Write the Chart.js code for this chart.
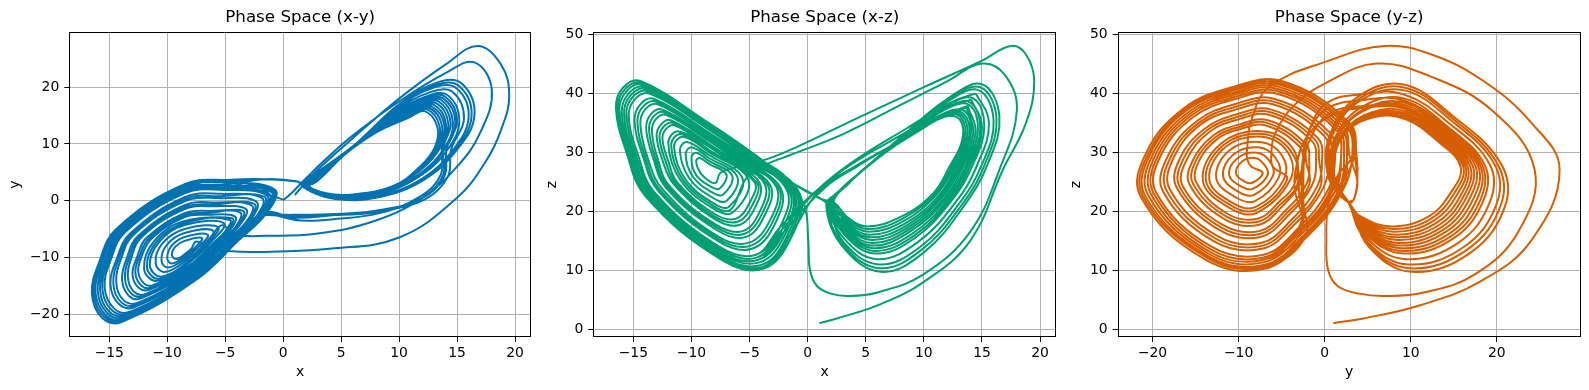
<!DOCTYPE html>
<html>
<head>
<meta charset="utf-8">
<script src="https://cdn.jsdelivr.net/npm/chart.js@4.4.0/dist/chart.umd.min.js"></script>
<style>
  body { margin: 0; background: #fff; width: 1589px; height: 390px; position: relative; overflow: hidden; }
  canvas { position: absolute; top: 0; }
</style>
</head>
<body>
<canvas id="xy" width="540" height="390" style="left:0px"></canvas>
<canvas id="xz" width="525" height="390" style="left:540px"></canvas>
<canvas id="yz" width="524" height="390" style="left:1065px"></canvas>
<script>

// first big loop from the start point, drops into the centre of the left wing
const startLoop = [
  [1,1,1],[2.5,4.5,1.8],[6,11,4],[10,18,8],[14,24,15],[16.8,27.3,27],[18.8,24,35],[19.5,18.5,42],
  [18.8,12.5,46.5],[17.5,7,48],[15,0.5,45.5],[10,-6.5,41],[4,-8.5,35.5],[-1,-9,30.8],[-3.5,-9,28.8],[-6,-8.5,27.5]
];

// left wing rings, small ones near the centre
const ringL13 = [[-7.5,-7.2,26.5],[-7.9,-8.4,24.8],[-8.4,-9.3,25.0],[-9.2,-10.3,26.4],[-9.6,-9.6,28.4],[-9.3,-8.1,29.0],[-8.5,-7.1,28.0]];
const ringL19 = [[-7.0,-6.6,26.2],[-7.6,-8.3,23.8],[-8.3,-9.6,24.1],[-9.6,-11.1,26.1],[-10.0,-10.1,29.0],[-9.6,-7.9,29.9],[-8.5,-6.4,28.5]];
const ringL25 = [[-6.5,-6.0,26],[-7.3,-8.2,22.75],[-8.25,-9.95,23.2],[-9.9,-11.8,25.9],[-10.5,-10.6,29.6],[-10.0,-7.7,30.8],[-8.5,-5.7,29]];
const ringL31 = [[-6.05,-5.3,25.8],[-7.0,-8.1,21.7],[-8.2,-10.3,22.3],[-10.2,-12.6,25.6],[-11.0,-11.05,30.3],[-10.4,-7.5,31.7],[-8.5,-5.0,29.5]];
const ringL37 = [[-5.6,-4.7,25.5],[-6.8,-8.0,20.7],[-8.1,-10.6,21.3],[-10.5,-13.4,25.3],[-11.5,-11.5,30.9],[-10.7,-7.3,32.6],[-8.5,-4.3,30.0]];
const ringL40 = [[-5.35,-4.35,25.4],[-6.65,-7.95,20.2],[-8.1,-10.75,20.85],[-10.7,-13.8,25.2],[-11.75,-11.75,31.2],[-10.9,-7.2,33.05],[-8.5,-3.95,30.2]];
const ringL43 = [[-5.1,-4.0,25.3],[-6.5,-7.9,19.7],[-8.1,-10.9,20.4],[-10.9,-14.15,25.1],[-12.0,-12.0,31.5],[-11.1,-7.05,33.5],[-8.5,-3.6,30.4]];

// larger left rings
const ringL49 = [[-4.6,-3.4,25.0],[-5.0,-5.4,21.4],[-6.2,-7.8,18.7],[-8.0,-11.25,19.5],[-11.2,-14.9,24.8],[-12.0,-14.6,28.5],[-12.5,-12.5,32.2],[-12.2,-9.8,33.9],[-11.4,-6.8,34.5],[-8.5,-2.9,30.9],[-6.5,-2.5,28.2]];
const ringL52 = [[-4.4,-3.1,24.9],[-4.75,-5.2,21.05],[-6.05,-7.75,18.2],[-8.0,-11.4,19.05],[-11.35,-15.3,24.65],[-12.25,-14.95,28.6],[-12.75,-12.7,32.5],[-12.4,-9.85,34.3],[-11.6,-6.7,34.95],[-8.5,-2.55,31.15],[-6.4,-2.15,28.3]];
const ringL55 = [[-4.15,-2.8,24.8],[-4.5,-5.0,20.7],[-5.9,-7.7,17.65],[-7.95,-11.6,18.6],[-11.5,-15.7,24.5],[-12.5,-15.3,28.65],[-13.0,-12.95,32.8],[-12.6,-9.9,34.7],[-11.8,-6.6,35.4],[-8.5,-2.2,31.4],[-6.3,-1.8,28.4]];
const ringL61 = [[-3.7,-2.1,24.6],[-4.1,-4.6,20.0],[-5.6,-7.6,16.6],[-7.9,-11.9,17.7],[-11.9,-16.5,24.25],[-12.9,-16.0,28.8],[-13.4,-13.4,33.4],[-13.1,-10.1,35.5],[-12.2,-6.4,36.3],[-8.5,-1.5,31.9],[-6.1,-1.0,28.5]];
const ringL64 = [[-3.45,-1.8,24.45],[-3.9,-4.4,19.65],[-5.5,-7.55,16.1],[-7.85,-12.05,17.25],[-12.05,-16.85,24.1],[-13.1,-16.4,28.9],[-13.65,-13.65,33.7],[-13.3,-10.15,35.95],[-12.35,-6.3,36.75],[-8.5,-1.15,32.15],[-5.95,-0.65,28.6]];
const ringL67 = [[-3.2,-1.5,24.3],[-3.7,-4.2,19.3],[-5.35,-7.5,15.6],[-7.8,-12.2,16.75],[-12.2,-17.2,24.0],[-13.3,-16.8,29.0],[-13.9,-13.9,34.0],[-13.5,-10.2,36.4],[-12.5,-6.2,37.2],[-8.5,-0.8,32.4],[-5.8,-0.3,28.7]];
const ringL73 = [[-2.7,-0.9,24.1],[-3.2,-3.8,18.6],[-5.1,-7.4,14.6],[-7.8,-12.5,15.8],[-12.5,-18.0,23.7],[-13.8,-17.5,29.2],[-14.4,-14.4,34.7],[-14.0,-10.35,37.2],[-12.9,-6.0,38.1],[-8.5,-0.1,32.8],[-5.6,0.45,28.8]];
const ringL76 = [[-2.5,-0.55,23.95],[-3.0,-3.6,18.25],[-4.95,-7.35,14.1],[-7.75,-12.7,15.35],[-12.7,-18.4,23.55],[-14.0,-17.85,29.3],[-14.65,-14.6,35.0],[-14.2,-10.4,37.65],[-13.05,-5.9,38.55],[-8.5,0.25,33.05],[-5.45,0.8,28.9]];
const ringL79 = [[-2.3,-0.2,23.8],[-2.8,-3.4,17.9],[-4.8,-7.3,13.6],[-7.7,-12.9,14.9],[-12.85,-18.8,23.4],[-14.2,-18.2,29.4],[-14.9,-14.8,35.3],[-14.4,-10.5,38.1],[-13.2,-5.8,39.0],[-8.5,0.6,33.3],[-5.3,1.2,29.0]];
const ringL85 = [[-1.8,0.4,23.6],[-2.4,-3.0,17.2],[-4.5,-7.2,12.55],[-7.65,-13.2,14.0],[-13.2,-19.6,23.2],[-14.6,-19.0,29.55],[-15.4,-15.3,35.9],[-14.9,-10.6,38.9],[-13.6,-5.5,39.9],[-8.5,1.3,33.8],[-5.1,1.9,29.1]];
const ringL88 = [[-1.6,0.65,23.5],[-2.2,-2.85,16.9],[-4.4,-7.2,12.1],[-7.6,-13.35,13.6],[-13.3,-19.9,23.1],[-14.8,-19.3,29.6],[-15.6,-15.5,36.2],[-15.1,-10.7,39.25],[-13.75,-5.45,40.3],[-8.5,1.55,34.0],[-5.0,2.25,29.2]];
const ringL90 = [[-1.4,0.9,23.4],[-2.0,-2.7,16.65],[-4.3,-7.2,11.7],[-7.6,-13.5,13.2],[-13.45,-20.2,22.95],[-15.0,-19.6,29.7],[-15.8,-15.7,36.45],[-15.25,-10.8,39.6],[-13.9,-5.4,40.7],[-8.5,1.8,34.2],[-4.9,2.6,29.25]];
const ringL93 = [[-1.2,1.2,23.3],[-1.85,-2.5,16.4],[-4.15,-7.15,11.3],[-7.6,-13.6,12.85],[-13.6,-20.55,22.8],[-15.15,-19.9,29.8],[-16.0,-15.9,36.7],[-15.4,-10.85,39.95],[-14.05,-5.3,41.05],[-8.5,2.1,34.4],[-4.8,2.9,29.3]];
const ringL95 = [[-1.0,1.5,23.2],[-1.7,-2.3,16.1],[-4.0,-7.1,10.85],[-7.55,-13.7,12.5],[-13.7,-20.9,22.7],[-15.3,-20.2,29.85],[-16.2,-16.1,37.0],[-15.6,-10.9,40.3],[-14.2,-5.2,41.4],[-8.5,2.4,34.6],[-4.7,3.2,29.4]];
const ringL97 = [[-0.85,1.7,23.1],[-1.55,-2.2,15.85],[-3.9,-7.05,10.5],[-7.5,-13.8,12.2],[-13.8,-21.15,22.6],[-15.45,-20.45,29.9],[-16.35,-16.25,37.2],[-15.75,-10.95,40.6],[-14.3,-5.1,41.7],[-8.5,2.65,34.75],[-4.6,3.45,29.45]];
const ringL99 = [[-0.7,1.9,23.0],[-1.4,-2.1,15.6],[-3.85,-7.0,10.2],[-7.5,-13.95,11.85],[-13.95,-21.4,22.5],[-15.6,-20.7,30.0],[-16.5,-16.4,37.4],[-15.9,-11.0,40.9],[-14.4,-5.0,42.05],[-8.5,2.9,34.9],[-4.5,3.7,29.5]];

// right wing loops, from the innermost outwards
const loopR00 = [[2.3,2.8,21.4],[3.4,4.3,19],[5.1,7.8,17.4],[8,12,19],[10.8,14.6,23],[12.2,15.8,27.5],[13.3,13,32],[13.1,9.5,35.5],[11.8,6,36],[9.5,2.6,33.5],[6,1.1,29],[3.7,1.3,25]];
const loopR06 = [[2.25,2.8,21.4],[3.4,4.35,18.7],[5.2,7.95,16.95],[8.1,12.3,18.65],[10.95,15.0,22.9],[12.4,16.1,27.5],[13.5,13.1,32.25],[13.2,9.5,35.85],[11.8,5.85,36.2],[9.4,2.5,33.45],[5.9,1.05,28.85],[3.6,1.3,24.9]];
const loopR12 = [[2.2,2.8,21.35],[3.35,4.4,18.4],[5.25,8.1,16.5],[8.25,12.6,18.3],[11.1,15.4,22.8],[12.6,16.35,27.55],[13.7,13.25,32.5],[13.3,9.45,36.2],[11.8,5.7,36.35],[9.3,2.35,33.4],[5.8,1.0,28.7],[3.55,1.3,24.75]];
const loopR18 = [[2.2,2.8,21.3],[3.3,4.45,18.1],[5.3,8.2,16.0],[8.4,12.9,17.9],[11.3,15.8,22.65],[12.8,16.6,27.6],[13.9,13.4,32.75],[13.4,9.4,36.55],[11.8,5.55,36.5],[9.2,2.2,33.3],[5.7,0.95,28.55],[3.5,1.3,24.6]];
const loopR24 = [[2.15,2.85,21.3],[3.3,4.5,17.8],[5.4,8.35,15.55],[8.5,13.2,17.55],[11.45,16.15,22.5],[13.0,16.9,27.6],[14.05,13.5,33.0],[13.55,9.4,36.9],[11.85,5.4,36.7],[9.15,2.1,33.25],[5.65,0.9,28.4],[3.4,1.35,24.5]];
const loopR30 = [[2.1,2.9,21.3],[3.3,4.55,17.5],[5.5,8.5,15.1],[8.6,13.5,17.2],[11.6,16.5,22.4],[13.2,17.2,27.65],[14.25,13.6,33.2],[13.7,9.35,37.3],[11.9,5.25,36.9],[9.05,2.0,33.2],[5.55,0.85,28.25],[3.3,1.4,24.4]];
const loopR36 = [[2.05,2.9,21.25],[3.25,4.6,17.2],[5.55,8.6,14.6],[8.7,13.8,16.85],[11.8,16.9,22.3],[13.4,17.5,27.7],[14.45,13.7,33.45],[13.8,9.3,37.65],[11.9,5.1,37.1],[8.95,1.85,33.15],[5.45,0.8,28.1],[3.25,1.4,24.3]];
const loopR42 = [[2.0,2.9,21.2],[3.2,4.65,16.9],[5.6,8.75,14.15],[8.8,14.1,16.5],[11.95,17.3,22.15],[13.6,17.8,27.7],[14.65,13.8,33.7],[13.9,9.3,38.0],[11.9,4.95,37.3],[8.9,1.7,33.1],[5.4,0.75,27.95],[3.2,1.4,24.2]];
const loopR48 = [[1.95,2.9,21.2],[3.2,4.7,16.6],[5.7,8.9,13.7],[8.95,14.4,16.1],[12.1,17.7,22.0],[13.8,18.05,27.75],[14.85,13.95,33.9],[14.0,9.25,38.4],[11.9,4.8,37.45],[8.8,1.6,33.0],[5.3,0.7,27.8],[3.1,1.4,24.05]];
const loopR54 = [[1.9,2.9,21.2],[3.2,4.75,16.3],[5.75,9.05,13.25],[9.1,14.7,15.75],[12.25,18.1,21.9],[14.0,18.3,27.8],[15.0,14.1,34.15],[14.1,9.2,38.75],[11.9,4.65,37.6],[8.7,1.5,32.95],[5.2,0.65,27.65],[3.05,1.4,23.9]];
const loopR60 = [[1.9,2.9,21.15],[3.15,4.8,16],[5.8,9.2,12.8],[9.2,15,15.4],[12.4,18.45,21.8],[14.2,18.6,27.8],[15.2,14.2,34.4],[14.25,9.2,39.1],[11.9,4.5,37.8],[8.6,1.35,32.9],[5.1,0.6,27.5],[3.0,1.4,23.8]];
const loopR72 = [[1.8,2.95,21.1],[3.1,4.9,15.4],[5.95,9.45,11.85],[9.45,15.6,14.7],[12.75,19.2,21.55],[14.6,19.2,27.85],[15.6,14.45,34.9],[14.5,9.15,39.8],[11.95,4.2,38.15],[8.4,1.1,32.8],[4.9,0.5,27.2],[2.85,1.45,23.55]];
const loopR84 = [[1.7,2.95,21.05],[3.05,4.95,14.8],[6.1,9.7,10.95],[9.7,16.2,13.95],[13.05,20.0,21.3],[15.0,19.75,27.9],[16.0,14.7,35.35],[14.7,9.1,40.5],[12.0,3.9,38.5],[8.25,0.85,32.65],[4.75,0.45,26.9],[2.7,1.45,23.3]];
const loopR92 = [[1.65,2.98,21.0],[3.0,5.0,14.4],[6.2,9.9,10.3],[9.85,16.6,13.5],[13.3,20.5,21.15],[15.25,20.1,27.95],[16.25,14.85,35.7],[14.85,9.05,41.0],[12.0,3.7,38.75],[8.1,0.7,32.6],[4.6,0.4,26.7],[2.6,1.5,23.15]];
const loopR100 = [[1.6,3,21],[3,5.1,14],[6.3,10.1,9.7],[10,17,13],[13.5,21,21],[15.5,20.5,28],[16.5,15,36],[15,9,41.5],[12,3.5,39],[8,0.5,32.5],[4.5,0.3,26.5],[2.5,1.5,23]];

// wing changes: left to right along the top band, right to left under the right wing
const crossLR = [[-1.5,3.8,25],[1.2,3.4,22]];
const crossRLa = [[13.8,4.5,37.8],[12,0.5,36.5],[8.5,-1.6,32.5],[4,-2.6,27.5],[1,-3,23.5]];
const crossRLb = [[14.2,4.2,39.8],[12.2,0.2,38.3],[8.5,-1.7,34],[4,-2.4,28.5],[0.8,-2.5,23.5]];
const crossRLc = [[13.6,4.6,37.5],[11.8,0.7,36.2],[8.3,-2.2,32.3],[4.2,-3.3,27.5],[1.5,-3.5,24]];
const crossRLd = [[13.9,4.3,38.8],[11.9,0.3,37.4],[8.4,-1.9,33.3],[3.8,-2.6,28],[0.5,-2.7,23]];

// passes close to the origin, then the second big right loop
const secondLoop = [
  [-2,1.5,26],[-0.3,0.4,21],[0.05,0.2,15],[0.2,0.4,10],[0.8,1.5,7.3],[2,4,6],[3.5,7,5.6],[6,11.5,6.2],
  [10,17.5,9.3],[14,22.5,16.5],[16.5,24.4,27],[18,19.5,37],[17,12,43],[15,6,45],[12,0.5,42],[8,-3.5,38],
  [3,-5.8,33],[-1.5,-6.2,29.5],[-4,-6,27.5]
];

const toR7 = loop => loop.slice(0, 8);
const fromE1 = ring => ring.slice(1);

const path = [].concat(
  startLoop,
  ringL13, ringL19, ringL25, ringL31, ringL37, ringL43,
  ringL49, ringL55, ringL61, ringL67, ringL73, ringL79, ringL85, ringL90, ringL95, ringL99,
  crossLR, loopR00, loopR12, loopR24, toR7(loopR36), crossRLa,
  fromE1(ringL97), ringL93, crossLR,
  loopR48, loopR60, toR7(loopR72), crossRLb,
  fromE1(ringL88), ringL95, secondLoop,
  ringL40, ringL52, ringL64, ringL76, ringL88, ringL97, crossLR,
  loopR84, loopR100, loopR92, loopR06, toR7(loopR30), crossRLc,
  fromE1(ringL90), ringL99, crossLR,
  loopR18, loopR42, toR7(loopR54), crossRLd,
  fromE1(ringL85), ringL93
);

// axis limits and ticks
const xRange = [-18.45, 21.38];
const yRange = [-24.05, 29.75];
const zRange = [-1.35, 50.35];
const xTicks = [-15, -10, -5, 0, 5, 10, 15, 20];
const yTicks = [-20, -10, 0, 10, 20];
const zTicks = [0, 10, 20, 30, 40, 50];

const FONT = "'DejaVu Sans', sans-serif";

function fmt(v) {
  return v < 0 ? '\u2212' + Math.abs(v) : String(v);
}

const framePlugin = {
  id: 'frame',
  afterDraw(chart) {
    const a = chart.chartArea;
    const ctx = chart.ctx;
    ctx.save();
    ctx.strokeStyle = '#000';
    ctx.lineWidth = 1;
    ctx.strokeRect(Math.round(a.left) + 0.5, Math.round(a.top) + 0.5,
      Math.round(a.right - a.left) - 1, Math.round(a.bottom - a.top) - 1);
    ctx.restore();
  }
};

function axis(range, ticks, label, isX, fitSize, titlePad) {
  return {
    type: 'linear',
    position: isX ? 'bottom' : 'left',
    min: range[0],
    max: range[1],
    afterBuildTicks: s => { s.ticks = ticks.map(v => ({ value: v })); },
    afterFit: s => { if (isX) s.height = fitSize; else s.width = fitSize; },
    grid: { color: '#b0b0b0', lineWidth: 1, tickColor: '#000', tickLength: 5 },
    border: { display: false },
    ticks: {
      color: '#000',
      padding: isX ? 3 : 5,
      font: { family: FONT, size: 13.9 },
      callback: v => fmt(v)
    },
    title: {
      display: true,
      text: label,
      color: '#000',
      font: { family: FONT, size: 13.9 },
      padding: isX ? { top: 0, bottom: titlePad } : { top: titlePad, bottom: 0 }
    }
  };
}

function makePanel(id, title, i, j, xLabel, yLabel, color, xr, yr, xt, yt, yWidth, yTitlePad, rightPad) {
  const pts = path.map(p => ({ x: p[i], y: p[j] }));
  new Chart(document.getElementById(id), {
    type: 'scatter',
    data: {
      datasets: [{
        data: pts,
        showLine: true,
        borderColor: color,
        borderWidth: 2,
        pointRadius: 0,
        tension: 0.4,
        fill: false
      }]
    },
    options: {
      responsive: false,
      animation: false,
      devicePixelRatio: 1,
      layout: { padding: { left: 0, right: rightPad, top: 0, bottom: 0 } },
      plugins: {
        legend: { display: false },
        tooltip: { enabled: false },
        title: {
          display: true,
          text: title,
          color: '#000',
          fullSize: false,
          font: { family: FONT, size: 16.7, weight: 'normal' },
          padding: { top: 8, bottom: 4 }
        }
      },
      scales: {
        x: axis(xr, xt, xLabel, true, 53, 9.6),
        y: axis(yr, yt, yLabel, false, yWidth, yTitlePad)
      }
    },
    plugins: [framePlugin]
  });
}

makePanel('xy', 'Phase Space (x-y)', 0, 1, 'x', 'y', '#0072B2', xRange, yRange, xTicks, yTicks, 69.3, 6.8, 9);
makePanel('xz', 'Phase Space (x-z)', 0, 2, 'x', 'z', '#009E73', xRange, zRange, xTicks, zTicks, 53.3, 4.2, 8.9);
makePanel('yz', 'Phase Space (y-z)', 1, 2, 'y', 'z', '#D55E00', yRange, zRange, yTicks, zTicks, 52.7, 3.1, 8.3);
</script>
</body>
</html>
